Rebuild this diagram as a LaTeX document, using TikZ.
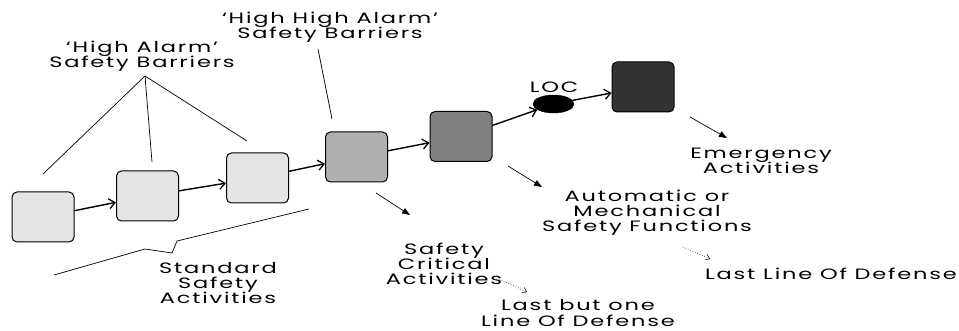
\documentclass[tikz,border=0pt]{standalone}
\usepackage{fontspec}
\setmainfont{Poppins}[FakeStretch=1.5,LetterSpace=12]
\usetikzlibrary{arrows.meta,shapes.geometric}
\definecolor{cA}{HTML}{E4E4E4}
\definecolor{cB}{HTML}{B0B0B0}
\definecolor{cC}{HTML}{808080}
\definecolor{cD}{HTML}{333333}
\begin{document}
\begin{tikzpicture}[x=1pt,y=-1pt,
  box/.style={draw, line width=1pt, rounded corners=5pt, minimum width=62pt, minimum height=50pt, inner sep=0pt},
  lbl/.style={align=center, inner sep=0pt, font={\fontsize{15}{15.2}\selectfont\lineskiplimit=-20pt}},
  chain/.style={line width=1.4pt, -{Straight Barb[length=6pt,width=10pt,line width=1.3pt]}},
  pointer/.style={line width=0.7pt, -{Triangle[length=8pt,width=6pt]}},
  dotarrow/.style={dotted, line width=0.6pt, -{Straight Barb[length=4pt,width=6pt,line width=0.5pt]}},
  leader/.style={line width=0.7pt}]
\useasboundingbox (0,0) rectangle (959,331);
% boxes
\node[box, fill=cA] (b1) at (43,217) {};
\node[box, fill=cA] (b2) at (147.5,196) {};
\node[box, fill=cA] (b3) at (257.5,178) {};
\node[box, fill=cB] (b4) at (356.5,157) {};
\node[box, fill=cC] (b5) at (461,136.5) {};
\node[draw, fill=black, ellipse, minimum width=41pt, minimum height=18pt, inner sep=0pt] (loc) at (553.5,104) {};
\node[box, fill=cD] (b6) at (643,87) {};
% chain arrows
\draw[chain] (b1) -- (b2);
\draw[chain] (b2) -- (b3);
\draw[chain] (b3) -- (b4);
\draw[chain] (b4) -- (b5);
\draw[chain] (b5) -- (loc);
\draw[chain] (loc) -- (b6);
% labels
\node[lbl] (locl) at (554,87.5) {LOC};
\node[lbl] (ha) at (142,56) {‘High Alarm’\\Safety Barriers};
\node[lbl] (hha) at (330,27) {‘High High Alarm’\\Safety Barriers};
\node[lbl] (ssa) at (218,283) {Standard\\Safety\\Activities};
\node[lbl] (sca) at (444,264) {Safety\\Critical\\Activities};
\node[lbl] (lbo) at (578,313) {Last but one\\Line Of Defense};
\node[lbl] (amf) at (647,212.5) {Automatic or\\Mechanical\\Safety Functions};
\node[lbl] (llo) at (831,274) {Last Line Of Defense};
\node[lbl] (ema) at (761,160.5) {Emergency\\Activities};
% leader lines
\coordinate (apex) at (145,76);
\coordinate (t1) at (43,174);
\coordinate (t2) at (152,162);
\coordinate (t3) at (247,141);
\draw[leader] (apex) -- (t1);
\draw[leader] (apex) -- (t2);
\draw[leader] (apex) -- (t3);
\coordinate (h1) at (318,49);
\coordinate (h2) at (332,119);
\draw[leader] (h1) -- (h2);
% brace
\coordinate (s1) at (54,275);
\coordinate (s2) at (145,249);
\coordinate (s3) at (172,253);
\coordinate (s4) at (177,241);
\coordinate (s5) at (309,209);
\draw[leader] (s1) -- (s2) -- (s3) -- (s4) -- (s5);
% pointers
\coordinate (p1a) at (376,193); \coordinate (p1b) at (410,215);
\draw[pointer] (p1a) -- (p1b);
\coordinate (p2a) at (508,166); \coordinate (p2b) at (542,187);
\draw[pointer] (p2a) -- (p2b);
\coordinate (p3a) at (690,117); \coordinate (p3b) at (727,138);
\draw[pointer] (p3a) -- (p3b);
% dotted
\coordinate (d1a) at (499,279); \coordinate (d1b) at (527,292);
\draw[dotarrow] (d1a) -- (d1b);
\coordinate (d2a) at (683,247); \coordinate (d2b) at (710,259);
\draw[dotarrow] (d2a) -- (d2b);
\end{tikzpicture}
\end{document}
